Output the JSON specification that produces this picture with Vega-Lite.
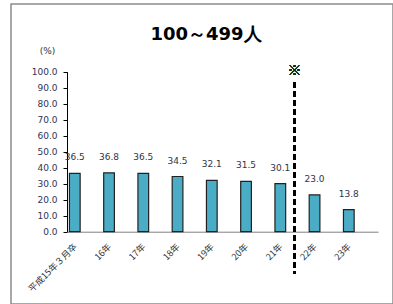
{
  "$schema": "https://vega.github.io/schema/vega-lite/v6.json",
  "width": 382,
  "height": 300,
  "autosize": {"type": "none"},
  "padding": {"left": 11, "top": 4, "right": 0, "bottom": 0},
  "background": "white",
  "title": {"text": "100～499人", "fontSize": 18, "fontWeight": "bold", "font": "DejaVu Sans", "color": "black", "anchor": "middle", "frame": "group", "baseline": "alphabetic", "offset": -38, "dx": 4, "dy": 16},
  "config": {"view": {"stroke": "#8c8c8c", "strokeWidth": 1.5}, "axis": {"labelOverlap": false}, "axisY": {"labelOverlap": false}},
  "data": {"values": [
    {"year": "平成15年３月卒", "series": "A", "value": 36.5},
    {"year": "16年", "series": "A", "value": 36.8},
    {"year": "17年", "series": "A", "value": 36.5},
    {"year": "18年", "series": "A", "value": 34.5},
    {"year": "19年", "series": "A", "value": 32.1},
    {"year": "20年", "series": "A", "value": 31.5},
    {"year": "21年", "series": "A", "value": 30.1},
    {"year": "22年", "series": "A", "value": 23.0},
    {"year": "23年", "series": "A", "value": 13.8}
  ]},
  "layer": [
    {
      "mark": {"type": "bar", "fill": "#4bacc6", "stroke": "#222222", "strokeWidth": 1.2},
      "encoding": {
        "x": {"field": "year", "type": "nominal",
          "scale": {"domain": ["平成15年３月卒", "16年", "17年", "18年", "19年", "20年", "21年", "22年", "23年"], "range": [56, 367], "paddingInner": 0, "paddingOuter": 0.04},
          "axis": {"title": null, "labelAngle": -45, "labelAlign": "right", "labelBaseline": "middle", "labelOffset": -10, "labelPadding": 13, "ticks": false, "domainColor": "#808080", "domainWidth": 1, "offset": -72.3, "labelFont": "Noto Sans CJK JP", "labelFontSize": 9, "labelColor": "#333333", "grid": false, "labelOverlap": false}},
        "xOffset": {"field": "series", "type": "nominal", "scale": {"domain": ["A", "B", "C"], "paddingInner": 0, "paddingOuter": 0.1}},
        "y": {"field": "value", "type": "quantitative",
          "scale": {"domain": [0, 100], "range": [227.7, 67.7], "nice": false},
          "axis": {"title": "(%)", "titleAngle": 0, "titleAlign": "center", "titleBaseline": "middle", "titleX": -20, "titleY": 46, "titleFont": "DejaVu Sans", "titleFontSize": 9, "titleFontWeight": "normal", "titleColor": "#333333",
            "format": ".1f", "values": [0, 10, 20, 30, 40, 50, 60, 70, 80, 90, 100], "labelOverlap": false, "offset": -56, "grid": false, "tickSize": 4, "tickColor": "black", "domainColor": "black", "labelFont": "DejaVu Sans", "labelFontSize": 9, "labelColor": "#333355", "labelPadding": 6}}
      }
    },
    {
      "mark": {"type": "text", "baseline": "middle", "dy": -16, "fontSize": 9, "font": "DejaVu Sans", "color": "#333344"},
      "encoding": {
        "x": {"field": "year", "type": "nominal"},
        "xOffset": {"field": "series", "type": "nominal"},
        "y": {"field": "value", "type": "quantitative",
          "axis": {"title": "(%)", "titleAngle": 0, "titleAlign": "center", "titleBaseline": "middle", "titleX": -20, "titleY": 46, "titleFont": "DejaVu Sans", "titleFontSize": 9, "titleFontWeight": "normal", "titleColor": "#333333",
            "format": ".1f", "values": [0, 10, 20, 30, 40, 50, 60, 70, 80, 90, 100], "labelOverlap": false, "offset": -56, "grid": false, "tickSize": 4, "tickColor": "black", "domainColor": "black", "labelFont": "DejaVu Sans", "labelFontSize": 9, "labelColor": "#333355", "labelPadding": 6}},
        "text": {"field": "value", "type": "quantitative", "format": ".1f"}
      }
    },
    {
      "mark": {"type": "rule", "color": "black", "strokeWidth": 2.5, "strokeDash": [6, 3]},
      "encoding": {
        "x": {"datum": "21年", "type": "nominal", "bandPosition": 0.6},
        "y": {"datum": 93.5, "type": "quantitative",
          "axis": {"title": "(%)", "titleAngle": 0, "titleAlign": "center", "titleBaseline": "middle", "titleX": -20, "titleY": 46, "titleFont": "DejaVu Sans", "titleFontSize": 9, "titleFontWeight": "normal", "titleColor": "#333333",
            "format": ".1f", "values": [0, 10, 20, 30, 40, 50, 60, 70, 80, 90, 100], "labelOverlap": false, "offset": -56, "grid": false, "tickSize": 4, "tickColor": "black", "domainColor": "black", "labelFont": "DejaVu Sans", "labelFontSize": 9, "labelColor": "#333355", "labelPadding": 6}},
        "y2": {"datum": -26.5}
      }
    },
    {
      "mark": {"type": "text", "text": "※", "fontSize": 14, "font": "Noto Sans CJK JP", "color": "#222222", "baseline": "middle"},
      "encoding": {
        "x": {"datum": "21年", "type": "nominal", "bandPosition": 0.6},
        "y": {"datum": 100.5, "type": "quantitative",
          "axis": {"title": "(%)", "titleAngle": 0, "titleAlign": "center", "titleBaseline": "middle", "titleX": -20, "titleY": 46, "titleFont": "DejaVu Sans", "titleFontSize": 9, "titleFontWeight": "normal", "titleColor": "#333333",
            "format": ".1f", "values": [0, 10, 20, 30, 40, 50, 60, 70, 80, 90, 100], "labelOverlap": false, "offset": -56, "grid": false, "tickSize": 4, "tickColor": "black", "domainColor": "black", "labelFont": "DejaVu Sans", "labelFontSize": 9, "labelColor": "#333355", "labelPadding": 6}}
      }
    }
  ]
}
